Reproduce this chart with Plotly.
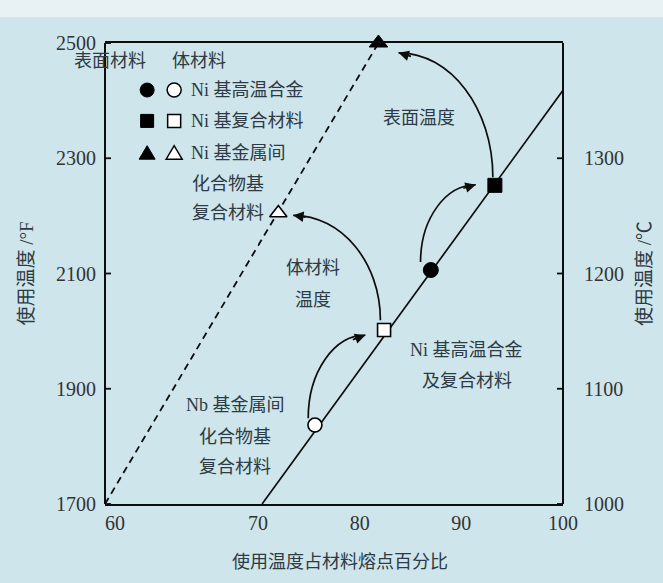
import plotly.graph_objects as go

# ---- axis ticks -------------------------------------------------------
pct_ticks_low = [60]                 # left (compressed) part of the % axis
pct_ticks_high = [70, 80, 90, 100]   # main part of the % axis
degF_ticks = [1700, 1900, 2100, 2300, 2500]
degC_ticks = [1000, 1100, 1200, 1300]

# ---- trend lines (x: % of melting point, y: use temperature in °F) ----
dash_low_x = [60, 70]
dash_low_y = [1700, 2148]
dash_high_x = [70, 81.85]
dash_high_y = [2148, 2500]

solid_x = [70.4, 100]
solid_y = [1700, 2418]

# ---- material points: surface (filled) and bulk (open) ----------------
point_symbols = ["circle", "square", "triangle-up"]
surface_x = [87.0, 93.3, 81.85]
surface_y = [2106, 2253, 2500]
bulk_x = [75.6, 82.4, 72.0]
bulk_y = [1837, 2002, 2205]

# ---- curved arrows (start -> end) ---------------------------------------
arrow_start_x = [93.1, 82.04, 74.94, 85.99]
arrow_start_y = [2267, 2019, 1849, 2120]
arrow_end_x = [83.82, 73.46, 80.56, 91.42]
arrow_end_y = [2483, 2201, 1993, 2254]
arrow_head_dx = [14, 14, -14, -14]
arrow_head_dy = [4, 2, 5, 4]

BG = "#cde5eb"
INK = "#2e3a44"
NUM_FONT = "Liberation Serif, Noto Sans CJK SC"
CJK_FONT = "Liberation Serif, Noto Sans CJK SC"
BLACK = "#0d0d0d"

fig = go.Figure()

fig.add_trace(go.Scatter(x=dash_low_x, y=dash_low_y, mode="lines", xaxis="x", yaxis="y",
                         line=dict(color=BLACK, width=1.8, dash="7px,5px")))
fig.add_trace(go.Scatter(x=dash_high_x, y=dash_high_y, mode="lines", xaxis="x2", yaxis="y",
                         line=dict(color=BLACK, width=1.8, dash="7px,5px")))
fig.add_trace(go.Scatter(x=solid_x, y=solid_y, mode="lines", xaxis="x2", yaxis="y",
                         line=dict(color=BLACK, width=1.7)))

fig.add_trace(go.Scatter(x=surface_x, y=surface_y, mode="markers", xaxis="x2", yaxis="y",
                         cliponaxis=False,
                         marker=dict(symbol=point_symbols, size=[15, 14, 16], color="#000",
                                     opacity=1, line=dict(color="#000", width=1))))
fig.add_trace(go.Scatter(x=bulk_x, y=bulk_y, mode="markers", xaxis="x2", yaxis="y",
                         cliponaxis=False,
                         marker=dict(symbol=point_symbols, size=[14, 13, 15], color="white",
                                     opacity=1, line=dict(color="#000", width=1.6))))

# the °C scale shares the plotting area on the right-hand side
fig.add_trace(go.Scatter(x=[], y=[], mode="lines", xaxis="x2", yaxis="y2",
                         hoverinfo="skip"))

# ---- curved arrows as cubic paths + arrowheads --------------------------
k = 0.5523
shapes = []
annotations = []
for sx, sy, ex, ey, hdx, hdy in zip(arrow_start_x, arrow_start_y, arrow_end_x, arrow_end_y,
                                     arrow_head_dx, arrow_head_dy):
    c1x, c1y = sx, sy + k * (ey - sy)
    c2x, c2y = ex + k * (sx - ex), ey
    shapes.append(dict(type="path", xref="x2", yref="y",
                       path=f"M{sx},{sy} C{c1x},{c1y} {c2x},{c2y} {ex},{ey}",
                       line=dict(color=BLACK, width=1.7)))
    annotations.append(dict(x=ex, y=ey, xref="x2", yref="y", ax=hdx, ay=hdy,
                            axref="pixel", ayref="pixel", text="", showarrow=True,
                            arrowhead=2, arrowsize=1.3, arrowwidth=1.6, arrowcolor=BLACK))

# ---- short inward tick marks on both temperature scales -----------------
for v in degF_ticks:
    shapes.append(dict(type="line", xref="paper", yref="y", xsizemode="pixel",
                       xanchor=0, x0=0, x1=6, y0=v, y1=v,
                       line=dict(color=BLACK, width=1.8)))
for v in degC_ticks:
    shapes.append(dict(type="line", xref="paper", yref="y2", xsizemode="pixel",
                       xanchor=1, x0=-6, x1=0, y0=v, y1=v,
                       line=dict(color=BLACK, width=1.8)))

# ---- legend keys (filled = surface, open = bulk), pixel-sized shapes ----
key_col_filled = 0.092
key_col_open = 0.151
key_rows = [0.898, 0.831, 0.761]
tri_path = "M-8,-6 L8,-6 L0,7.5 Z"
for col, fill, lw in [(key_col_filled, "#000", 1), (key_col_open, "white", 1.5)]:
    common = dict(xref="paper", yref="paper", xsizemode="pixel", ysizemode="pixel",
                  xanchor=col, fillcolor=fill, line=dict(color="#000", width=lw))
    shapes.append(dict(type="circle", yanchor=key_rows[0], x0=-7, x1=7, y0=-7, y1=7, **common))
    shapes.append(dict(type="rect", yanchor=key_rows[1], x0=-6.5, x1=6.5, y0=-6.5, y1=6.5, **common))
    shapes.append(dict(type="path", yanchor=key_rows[2], path=tri_path, **common))


def label(text, x, y, anchor="center", size=18):
    annotations.append(dict(text=text, x=x, y=y, xref="paper", yref="paper",
                            xanchor=anchor, yanchor="middle", showarrow=False,
                            font=dict(family=CJK_FONT, size=size, color=INK)))


# legend header and entries
label("表面材料", 0.011, 0.961)
label("体材料", 0.205, 0.961)
label("Ni 基高温合金", 0.183, key_rows[0], "left")
label("Ni 基复合材料", 0.183, key_rows[1], "left")
label("Ni 基金属间", 0.183, key_rows[2], "left")
label("化合物基", 0.186, 0.694, "left")
label("复合材料", 0.186, 0.631, "left")

# in-plot notes
label("表面温度", 0.686, 0.837)
label("体材料", 0.454, 0.512)
label("温度", 0.454, 0.443)
label("Ni 基高温合金", 0.790, 0.334)
label("及复合材料", 0.790, 0.267)
label("Nb 基金属间", 0.284, 0.215)
label("化合物基", 0.284, 0.145)
label("复合材料", 0.284, 0.080)

# x-axis title
label("使用温度占材料熔点百分比", 0.513, -0.126)

# lighter strip along the top edge of the page
shapes.append(dict(type="rect", xref="paper", yref="paper", x0=-0.3, x1=1.3,
                   y0=1.056, y1=1.2, fillcolor="#e8f2f4", line=dict(width=0), layer="below"))

tick_font = dict(family=NUM_FONT, size=20, color="#333")
split = 153 / 458

fig.update_layout(
    width=663, height=583,
    margin=dict(l=105, r=100, t=43, b=79),
    paper_bgcolor=BG, plot_bgcolor="rgba(0,0,0,0)",
    showlegend=False,
    shapes=shapes, annotations=annotations,
    xaxis=dict(domain=[0, split], range=[60, 70], anchor="y",
               tickvals=pct_ticks_low, ticks="", showgrid=False, zeroline=False,
               showline=True, linecolor=BLACK, linewidth=1.8, mirror=True,
               tickfont=tick_font, ticklabelshift=10),
    xaxis2=dict(domain=[split, 1], range=[70, 100], anchor="y",
                tickvals=pct_ticks_high, ticks="", showgrid=False, zeroline=False,
                showline=True, linecolor=BLACK, linewidth=1.8, mirror=True,
                tickfont=tick_font),
    yaxis=dict(range=[1700, 2500], anchor="free", position=0, tickvals=degF_ticks,
               ticks="", showgrid=False, zeroline=False, showline=True,
               linecolor=BLACK, linewidth=1.8, tickfont=tick_font, ticklabelstandoff=4,
               title=dict(text="使用温度 /°F", standoff=16,
                          font=dict(family=CJK_FONT, size=19, color=INK))),
    yaxis2=dict(range=[1000, 1400], anchor="free", position=1, overlaying="y",
                side="right", tickvals=degC_ticks, ticks="", showgrid=False,
                zeroline=False, showline=True, linecolor=BLACK, linewidth=1.8,
                tickfont=tick_font, ticklabelstandoff=16,
                title=dict(text="使用温度 /℃", standoff=14,
                           font=dict(family=CJK_FONT, size=19, color=INK))),
)

fig.write_html("out.html")
